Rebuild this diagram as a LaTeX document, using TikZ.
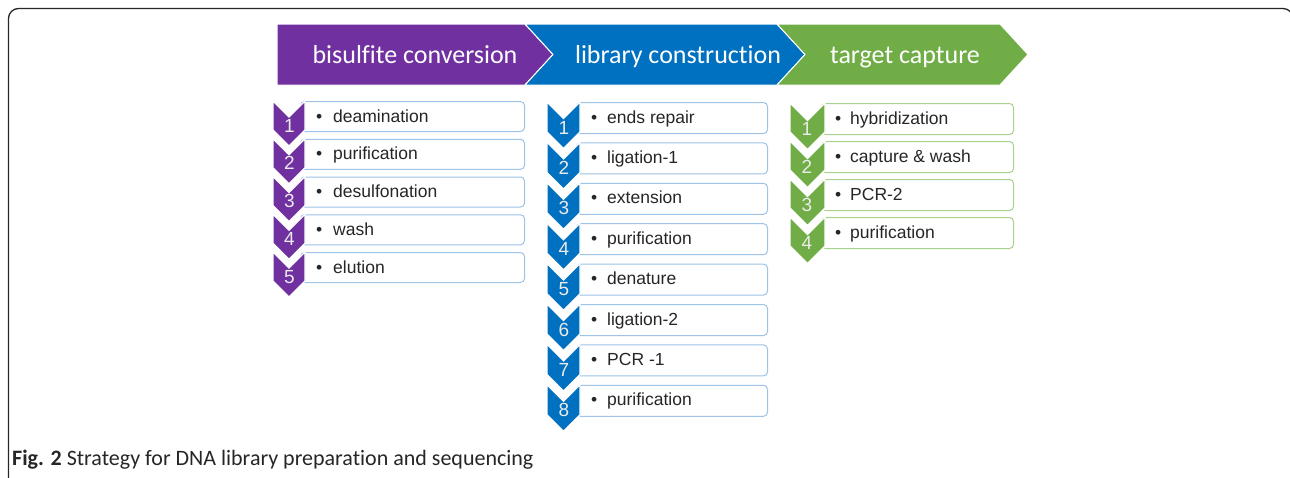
\documentclass[tikz,border=0pt]{standalone}
\usepackage{fontspec}
\setmainfont{Liberation Sans}
\newfontfamily\calib[Ligatures=NoCommon]{Carlito}
\definecolor{cpurple}{HTML}{7030A0}
\definecolor{cblue}{HTML}{0070C0}
\definecolor{cgreen}{HTML}{70AD47}
\definecolor{bblue}{HTML}{9DC3E6}
\definecolor{bgreen}{HTML}{A9D18E}
\definecolor{txt}{HTML}{262626}
\begin{document}
\begin{tikzpicture}[x=1pt,y=-1pt,
  hdr/.style={font=\calib\fontsize{26}{26}\selectfont, text=white, anchor=base, inner sep=0},
  stepbox/.style={draw=#1, fill=white, rounded corners=4pt, line width=1pt, anchor=north west, inner sep=0},
  steptext/.style={font=\fontsize{17.5}{18}\selectfont, anchor=base west, inner sep=0, text=txt},
  num/.style={font=\fontsize{19}{19}\selectfont, text=white!92!black, anchor=base, inner sep=0},
  chev/.style={fill=#1, draw=white, line width=1.2pt, line join=miter},
  hchev/.style={fill=#1, draw=white, line width=1pt},
  frame/.style={draw=black!85, line width=1.3pt, rounded corners=10pt}
]
\useasboundingbox (0,0) rectangle (1290,477);
\clip (0,0) rectangle (1290,477);
% frame
\draw[frame] (8.5,500) -- (8.5,8.5) -- (1293,8.5) -- (1293,500);
% header chevrons
\path[hchev=cpurple] (277,24) -- (525,24) -- (553,54.5) -- (525,85) -- (277,85) -- cycle;
\path[hchev=cblue] (525,24) -- (777,24) -- (805,54.5) -- (777,85) -- (525,85) -- (553,54.5) -- cycle;
\path[hchev=cgreen] (777,24) -- (1000,24) -- (1028,54.5) -- (1000,85) -- (777,85) -- (805,54.5) -- cycle;
\node[hdr] (h1) at (415,63.5) {bisulfite conversion};
\node[hdr] (h2) at (678,63.5) {library construction};
\node[hdr] (h3) at (905,63.5) {target capture};
% purple column
\foreach \i/\t in {1/deamination,2/purification,3/desulfonation,4/wash,5/elution}{
  \pgfmathsetmacro\yt{101+37.75*(\i-1)}
  \node[stepbox=bblue, minimum width=224pt, minimum height=30pt] (pb\i) at (300,\yt) {};
}
\foreach \i/\t in {1/deamination,2/purification,3/desulfonation,4/wash,5/elution}{
  \pgfmathsetmacro\yt{101+37.75*(\i-1)}
  \path[chev=cpurple] (273,\yt) -- (289,{\yt+16}) -- (305,\yt) -- (305,{\yt+29}) -- (289,{\yt+45}) -- (273,{\yt+29}) -- cycle;
  \node[num] (pn\i) at (289.5,{\yt+31}) {\i};
  \node[steptext] (pt\i) at (316,{\yt+21}) {\makebox[17pt][l]{•}\t};
}
% blue column
\foreach \i/\t in {1/ends repair,2/ligation-1,3/extension,4/purification,5/denature,6/ligation-2,7/PCR -1,8/purification}{
  \pgfmathsetmacro\yt{102+40.4*(\i-1)}
  \node[stepbox=bblue, minimum width=191pt, minimum height=31pt] (bb\i) at (576,\yt) {};
}
\foreach \i/\t in {1/ends repair,2/ligation-1,3/extension,4/purification,5/denature,6/ligation-2,7/PCR -1,8/purification}{
  \pgfmathsetmacro\yt{102+40.4*(\i-1)}
  \path[chev=cblue] (547,\yt) -- (563.5,{\yt+16.5}) -- (580,\yt) -- (580,{\yt+30}) -- (563.5,{\yt+46.5}) -- (547,{\yt+30}) -- cycle;
  \node[num] (bn\i) at (564,{\yt+32}) {\i};
  \node[steptext] (bt\i) at (591,{\yt+21}) {\makebox[16pt][l]{•}\t};
}
% green column
\foreach \i/\t in {1/hybridization,2/capture \& wash,3/PCR-2,4/purification}{
  \pgfmathsetmacro\yt{103+38*(\i-1)}
  \node[stepbox=bgreen, minimum width=192pt, minimum height=31pt] (gb\i) at (821,\yt) {};
}
\foreach \i/\t in {1/hybridization,2/capture \& wash,3/PCR-2,4/purification}{
  \pgfmathsetmacro\yt{103+38*(\i-1)}
  \path[chev=cgreen] (790,\yt) -- (807.5,{\yt+17.5}) -- (825,\yt) -- (825,{\yt+29}) -- (807.5,{\yt+46.5}) -- (790,{\yt+29}) -- cycle;
  \node[num] (gn\i) at (807,{\yt+32}) {\i};
  \node[steptext] (gt\i) at (835,{\yt+21}) {\makebox[15pt][l]{•}\t};
}
% caption
\node[anchor=base west, inner sep=0, text=txt, font=\calib\fontsize{22}{22}\selectfont] (cap) at (12,465) {\textbf{Fig. 2} Strategy for DNA library preparation and sequencing};
\end{tikzpicture}
\end{document}
